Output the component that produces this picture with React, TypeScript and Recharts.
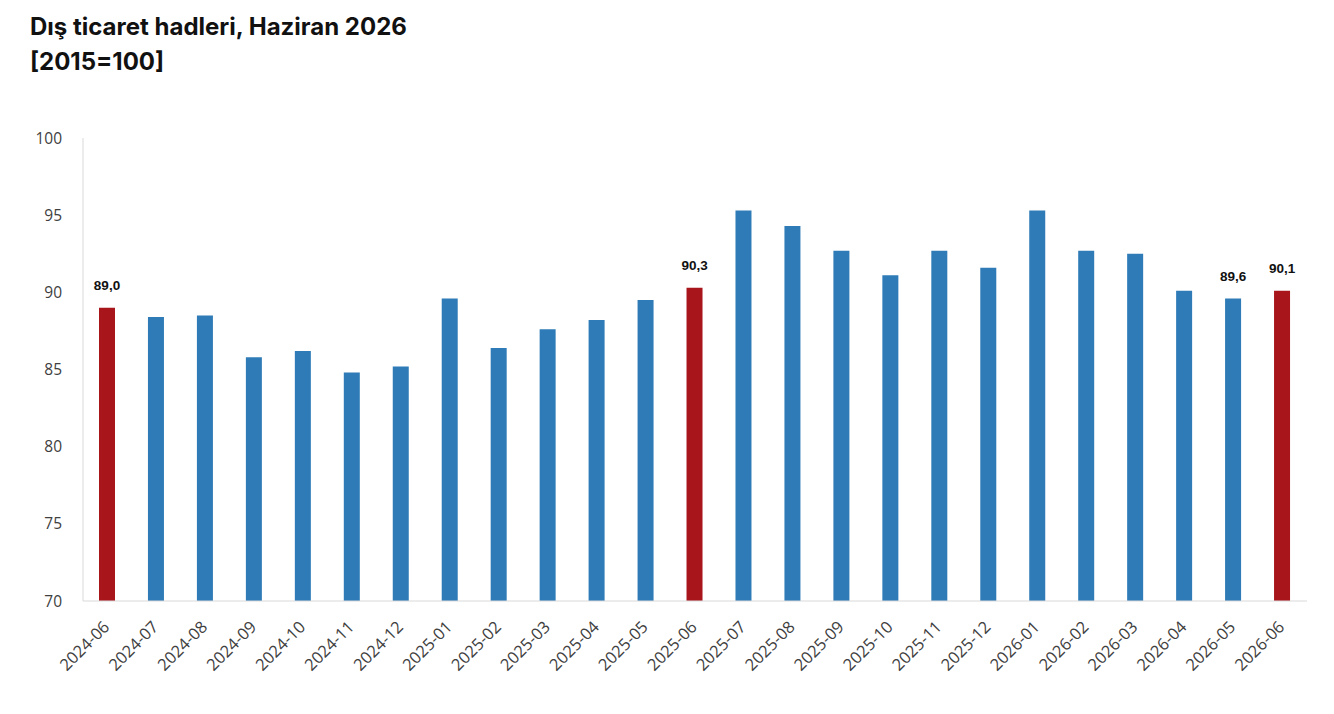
import { BarChart, Bar, XAxis, YAxis, Cell, LabelList } from "recharts";

const months = [
  "2024-06", "2024-07", "2024-08", "2024-09", "2024-10", "2024-11", "2024-12",
  "2025-01", "2025-02", "2025-03", "2025-04", "2025-05", "2025-06", "2025-07",
  "2025-08", "2025-09", "2025-10", "2025-11", "2025-12", "2026-01", "2026-02",
  "2026-03", "2026-04", "2026-05", "2026-06",
];

const values = [
  89.0, 88.4, 88.5, 85.8, 86.2, 84.8, 85.2, 89.6, 86.4, 87.6, 88.2, 89.5, 90.3,
  95.3, 94.3, 92.7, 91.1, 92.7, 91.6, 95.3, 92.7, 92.5, 90.1, 89.6, 90.1,
];

// months drawn in red (same month of previous years)
const highlighted = ["2024-06", "2025-06", "2026-06"];
// months that carry a value label
const labelled = ["2024-06", "2025-06", "2026-05", "2026-06"];

const yTicks = [70, 75, 80, 85, 90, 95, 100];

const data = months.map((m, i) => ({ month: m, value: values[i] }));

const BLUE = "#2e7bb7";
const RED = "#a8161b";

const XTick = (props: any) => {
  const { x, y, payload } = props;
  const ax = x + 3;
  const ay = y + 19;
  return (
    <text
      x={ax}
      y={ay}
      transform={`rotate(-45, ${ax}, ${ay})`}
      textAnchor="end"
      fontSize={16.5}
      fill="#404040"
      fontFamily="'Open Sans', sans-serif"
    >
      {payload.value}
    </text>
  );
};

const ValueLabel = (props: any) => {
  const { x, y, width, value, index } = props;
  if (!labelled.includes(months[index])) return null;
  return (
    <text
      x={x + width / 2}
      y={y - 18}
      textAnchor="middle"
      fontSize={13.5}
      fontWeight="bold"
      fill="#111"
      fontFamily="'Liberation Sans', Arial, sans-serif"
    >
      {value.toFixed(1).replace(".", ",")}
    </text>
  );
};

export default function App() {
  return (
    <div
      style={{
        position: "absolute",
        left: 0,
        top: 0,
        width: 1334,
        height: 714,
        background: "#fff",
      }}
    >
      <div
        style={{
          position: "absolute",
          left: 30,
          top: 9,
          fontFamily: "Inter, sans-serif",
          fontWeight: 700,
          fontSize: 24,
          lineHeight: "35px",
          color: "#111",
        }}
      >
        Dış ticaret hadleri, Haziran 2026
        <br />
        [2015=100]
      </div>
      <div style={{ position: "absolute", left: 0, top: 0 }}>
        <BarChart
          width={1334}
          height={714}
          data={data}
          margin={{ top: 138, right: 27, bottom: 13, left: 23 }}
        >
          <XAxis
            dataKey="month"
            interval={0}
            height={100}
            tick={<XTick />}
            tickLine={false}
            axisLine={{ stroke: "#d9d9d9" }}
          />
          <YAxis
            domain={[70, 100]}
            ticks={yTicks}
            width={60}
            tickSize={0}
            tickMargin={21}
            tickLine={false}
            axisLine={{ stroke: "#d9d9d9" }}
            allowDataOverflow
            tick={{
              fontSize: 15.5,
              fill: "#404040",
              fontFamily: "'Open Sans', sans-serif",
            }}
          />
          <Bar dataKey="value" barSize={16} isAnimationActive={false}>
            {data.map((d) => (
              <Cell
                key={d.month}
                fill={highlighted.includes(d.month) ? RED : BLUE}
              />
            ))}
            <LabelList dataKey="value" content={<ValueLabel />} />
          </Bar>
        </BarChart>
      </div>
    </div>
  );
}
